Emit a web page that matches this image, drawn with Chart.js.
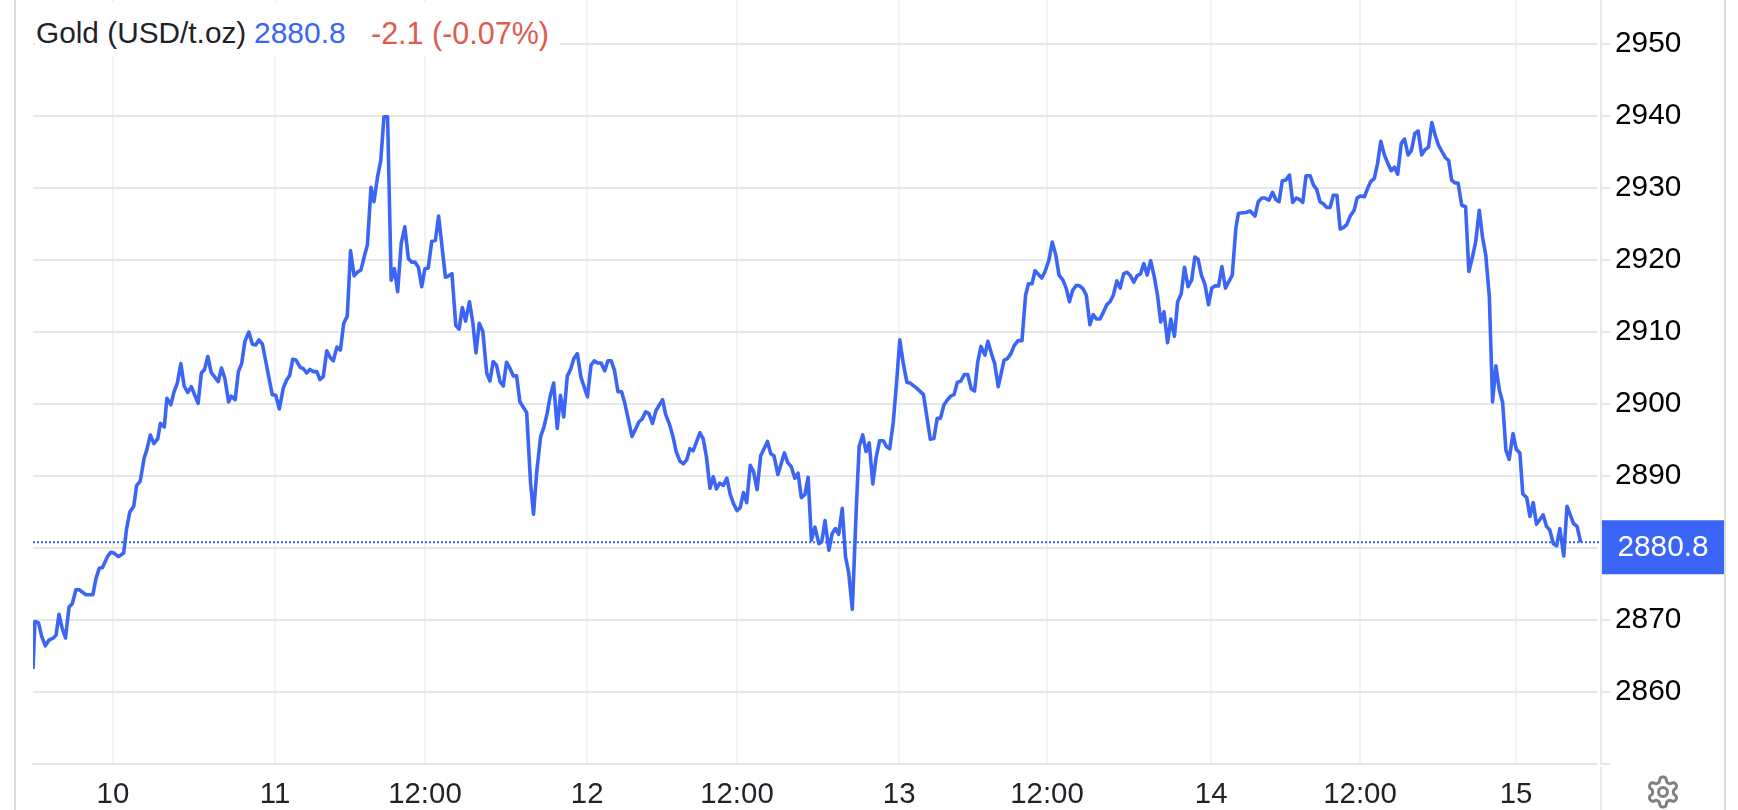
<!DOCTYPE html>
<html><head><meta charset="utf-8">
<style>
html,body{margin:0;padding:0;background:#fff;width:1738px;height:810px;overflow:hidden;font-family:"Liberation Sans",Arial,sans-serif}
#wrap{position:relative;width:1738px;height:810px}
canvas{position:absolute;left:0;top:0}
.edge{position:absolute;top:0;width:2px;height:810px;background:#dcdcdc}
#head{position:absolute;left:35px;top:2px;width:525px;height:55px;background:#fff}
#head span{position:absolute;top:13px;font-size:30px;line-height:36px;white-space:nowrap}
#gear{position:absolute;left:1645px;top:774px;width:36px;height:36px}
</style></head><body>
<div id="wrap">
<div class="edge" style="left:14px"></div>
<div class="edge" style="left:1724px"></div>
<canvas id="c" width="1738" height="810"></canvas>
<div id="head">
<span style="left:1px;color:#1f2328;font-size:29.8px">Gold (USD/t.oz)</span>
<span style="left:219px;color:#3b66f5">2880.8</span>
<span style="left:336px;color:#e05a50;font-size:30.5px">-2.1 (-0.07%)</span>
</div>
<svg id="gear" viewBox="0 0 24 24" fill="none" stroke="#808080" stroke-width="2" stroke-linecap="round" stroke-linejoin="round"><path d="M12.22 2h-.44a2 2 0 0 0-2 2v.18a2 2 0 0 1-1 1.73l-.43.25a2 2 0 0 1-2 0l-.15-.08a2 2 0 0 0-2.73.73l-.22.38a2 2 0 0 0 .73 2.73l.15.1a2 2 0 0 1 1 1.72v.51a2 2 0 0 1-1 1.74l-.15.09a2 2 0 0 0-.73 2.73l.22.38a2 2 0 0 0 2.73.73l.15-.08a2 2 0 0 1 2 0l.43.25a2 2 0 0 1 1 1.73V20a2 2 0 0 0 2 2h.44a2 2 0 0 0 2-2v-.18a2 2 0 0 1 1-1.73l.43-.25a2 2 0 0 1 2 0l.15.08a2 2 0 0 0 2.73-.73l.22-.39a2 2 0 0 0-.73-2.73l-.15-.08a2 2 0 0 1-1-1.74v-.5a2 2 0 0 1 1-1.74l.15-.09a2 2 0 0 0 .73-2.73l-.22-.38a2 2 0 0 0-2.73-.73l-.15.08a2 2 0 0 1-2 0l-.43-.25a2 2 0 0 1-1-1.73V4a2 2 0 0 0-2-2z"/><circle cx="12" cy="12" r="3"/></svg>
</div>
<script src="https://cdn.jsdelivr.net/npm/chart.js@4"></script>
<script>
const slots = [0,0.6,1.7,2.7,3.8,4.9,6.3,7.1,8,9,10,11.1,12.1,13.2,14.2,16.3,18.4,19.4,20.4,21.4,22.9,23.9,24.9,26.3,27.9,28.8,29.8,31,31.9,33,34.2,35,36.1,37.2,38.4,39.2,40.4,41.2,42.4,43.4,44.4,45.5,46.5,47.6,48.7,50.8,51.8,52.8,53.8,54.8,57,58,59,60.2,61,62.2,63.2,64.2,65.2,66.4,67.5,68.5,69.5,70.6,73.6,74.7,75.8,77,78,79,79.9,
80.9,82.2,83.2,84.2,85.2,86.3,87.3,88.3,89.3,90.4,91.4,92.4,93.5,94.6,95.6,96.7,97.7,98.8,99.8,100.9,102,102.9,104,104.9,106,107,108,109.1,110.2,111.2,112.2,113.3,114.4,115.5,116.5,117.5,118.6,119.6,120.6,121.6,122.7,123.8,124.8,126.9,127.9,128.9,130.1,131.1,132.1,133.1,134.3,135.3,136.3,137.3,138.4,
139.6,140.6,141.6,142.6,143.7,144.7,145.7,146.7,147.8,148.8,149.8,151.9,153.1,154,155,156.2,157.2,158.2,159.1,160.2,161.3,162.3,163.3,164.4,165.4,166.4,167.5,168.6,170.6,171.7,172.7,173.7,174.8,175.9,176.9,177.9,178.9,180,181.1,182.1,183.1,184.3,185.3,186.4,187.4,188.5,189.5,190.6,191.7,193.7,194.7,195.9,196.9,197.9,199,200.1,201.1,202.1,203.1,205.2,206.2,207.2,208.3,209.3,210.3,211.3,212.4,213.5,
214.5,215.5,216.6,217.6,218.6,219.6,220.7,221.7,222.8,223.9,226,227,228,229.2,231.2,232.2,233.3,234.4,235.4,236.4,237.5,238.5,239.5,240.6,241.8,242.7,243.7,244.9,245.9,246.9,247.9,249,250,251,252.1,253.3,254.2,255.3,256.3,257.3,258.4,259.4,260.5,261.6,262.6,263.6,264.7,265.7,266.7,267.8,268.9,269.9,271.9,274,276.1,277.2,278.2,279.2,280.3,281.4,282.4,283.4,284.4,285.5,286.6,287.6,288.7,289.7,290.7,291.7,292.9,293.8,294.9,
295.9,297,298.8,299.8,300.9,301.9,303.1,304.3,305.4,306.3,307.4,308.3,310.4,311.4,312.6,313.6,314.7,315.7,316.9,317.9,318.9,319.9,321.1,322.1,323.1,324.1,325.2,326.2,327.3,328.3,329.4,330.4,331.4,332.4,333.5,334.5,335.6,336.6,337.7,338.7,339.7,340.8,341.8,342.8,343.9,345,346,347,348,349.1,350.1,351.2,352.2,353.3,354.3,355.4,356.5,357.5,358.5,359.5,360.6,361.7,362.7,363.7,364.8,365.8,366.9,369,370.1,370.9,373.2,
374.5,376,377,378.1,379.1,380.3,381.4,382.4,383.4,384.4,385.5,386.6,387.6,388.7,389.7,390.7,391.7,393,394,395,396,397,398.1,399.1,400.1,401.2,402.2,403.2,404.2,405.3,406.5,407.4,408.4,409.7,410.7,411.6,412.7,413.7,414.7,415.8,416.9,417.9,418.9,419.9,421,422,423.1,424.1,425.2,426.2,427.3,428.3,429.4,430.4,431.4,432.4,433.6,434.6,435.6,436.5,
437.5,438.5,439.6,440.8,441.8,442.8,443.9,445,446,447,448.1,449.1,450.1,451.2,452.2,453.2,454.2,455.4,456.4,457.5,458.4,459.6,460.6,461.6,462.6,464.7,465.7,466.7,467.8,468.8,469.8,471,472,473,474,475.1,476.2];
const prices = [2863.2,2869.8,2869.6,2867.7,2866.4,2867.2,2867.5,2867.9,2870.8,2868.8,2867.5,2871.8,2872.3,2874.2,2874.2,2873.5,2873.5,2875.8,2877.2,2877.3,2878.8,2879.4,2879.3,2878.8,2879.3,2882.7,2885,2885.8,2888.7,2889.3,2892.5,2893.6,2895.7,2894.5,2895.2,2897.3,2896.8,2900.8,2899.9,2901.7,2902.9,2905.6,2902.5,2901.6,2902.4,2900.1,2904.3,2904.8,2906.6,2904.4,2903.1,2905,2903.6,2900.3,2901.1,2900.6,2904.5,2905.6,2908.7,2910,2908.3,2908.2,2908.9,2908.3,2901.3,2901.2,2899.3,2902.2,2903.3,2904,2906.2,
2906.1,2905.1,2904.9,2904.3,2904.8,2904.5,2904.5,2903.4,2903.8,2907.4,2906.5,2906,2907.9,2907.5,2911.2,2912.2,2921.3,2917.8,2918.3,2918.6,2920.6,2922.1,2930.1,2928.1,2931.5,2933.8,2939.9,2939.9,2917.2,2918.8,2915.6,2922.3,2924.6,2920.2,2919.7,2919.7,2919,2916.3,2918.8,2918.9,2922.6,2922.7,2926.1,2917.6,2917.8,2918.1,2910.9,2910.4,2913.4,2911.5,2914.2,2911.4,2907.1,2911.2,2910.1,
2904.3,2903.2,2905.9,2905.4,2903.1,2902.5,2905.8,2905,2903.9,2903.9,2900.3,2898.8,2889,2884.7,2890.6,2895.5,2896.8,2898.7,2901,2902.9,2896.6,2901.2,2898.2,2903.9,2904.8,2906.3,2907,2903.7,2901,2905.4,2906,2905.7,2905.7,2904.6,2906,2906,2904.7,2901.7,2901.7,2900.1,2898,2895.5,2896.4,2897.5,2897.9,2898.9,2898.7,2897.3,2899.1,2900.6,2898.5,2897.1,2895.5,2893.4,2892.1,2891.7,2892.2,2893.8,2893.5,2896,2895.2,2892.7,2888.3,2889.9,2888.2,2889,2888.7,2889.7,
2887.5,2886.2,2885.2,2885.6,2887.7,2886.3,2891.5,2890.6,2888.1,2892.8,2894.8,2893.1,2892.8,2890.2,2893.2,2891.9,2891.3,2889.7,2890.4,2887,2887.4,2889.8,2881.1,2882.9,2880.6,2880.9,2883.8,2879.7,2882,2882.7,2881.9,2885.5,2878.8,2876.5,2871.5,2885.3,2894.1,2895.7,2893.4,2894.6,2888.9,2892.5,2894.9,2894.9,2894.1,2893.8,2897.5,2902.9,2908.9,2905.6,2903,2902.9,2902.2,2901.3,2895.1,2895.2,2898,2898,2899.9,2900.6,2901.1,2901.3,2903,2903.2,2904.1,2904.1,2902.1,2901.8,2905.9,2908,2906.8,2908.7,2907,
2905.6,2902.4,2906.1,2906.3,2907,2908.1,2908.8,2908.8,2915.1,2916.7,2916.7,2918.5,2917.5,2918.4,2920,2922.5,2920.7,2917.9,2917.2,2916.1,2914.2,2915.8,2916.5,2916.4,2916,2915.1,2911,2912.4,2911.8,2911.8,2912.8,2913.8,2914.2,2915.1,2917.1,2916.1,2918.1,2918.3,2917.8,2916.9,2917.8,2918.1,2919.5,2917.9,2919.9,2917.7,2915.1,2911.4,2912.8,2908.5,2911.8,2909.4,2914.2,2915.3,2919,2916.3,2917.2,2920.4,2920.1,2917.9,2916.6,2913.8,2916.1,2916.4,2916.4,2919.1,2916.1,2917.9,2924.4,2926.5,2926.6,
2926.8,2926.1,2928.1,2928.6,2928.6,2928.3,2929.4,2928.4,2928.1,2931,2931.1,2931.8,2928,2928.6,2928.4,2928,2931.7,2931.7,2930.4,2929.8,2928.1,2927.8,2927.3,2927.3,2929,2929,2924.3,2924.5,2924.9,2926.1,2926.9,2928.6,2928.9,2928.8,2930,2930.9,2931.3,2933.4,2936.5,2934.6,2933.4,2932.4,2932.9,2931.9,2936.2,2936.8,2934.6,2935.2,2937.6,2937.9,2934.6,2935.3,2935.7,2939.1,2937.4,2936,2935,2934.2,2933.8,2931.1,
2930.7,2930.7,2927.6,2927.4,2918.4,2920.2,2922.5,2926.9,2923.2,2920.7,2914.9,2900.3,2905.3,2901.9,2900.2,2893.6,2892.3,2895.9,2893.7,2893.2,2887.5,2887,2884.4,2886.3,2883.3,2884.6,2883,2882.5,2880.6,2880.3,2882.7,2878.9,2885.8,2884.6,2883.4,2883,2880.8];
const lastPrice = 2880.8;
const xTickSlots = [24.6,74.5,120.6,170.5,216.6,266.5,312,362.5,408.3,456.3];
const xTickLabels = ["10","11","12:00","12","12:00","13","12:00","14","12:00","15"];
const priceTicks = [2850,2860,2870,2880,2890,2900,2910,2920,2930,2940,2950];
const xMaxSlot = 482.46, yMin = 2850, yMax = 2956.11;
const BLUE = "#3b66f5", GRID = "#e6e7e8", VGRID = "#f0f3f7";
const FONT = {family:'"Liberation Sans",Arial,sans-serif', size:29.8};

const extras = {
  id:'extras',
  beforeDatasetsDraw(ch){
    const {ctx,chartArea:a} = ch;
    ctx.save();
    ctx.fillStyle = '#fff';
    ctx.fillRect(a.right-3.2, 0, 2.2, a.bottom+1);
    ctx.restore();
  },
  afterDraw(ch){
    const {ctx,chartArea:a,scales:{y}} = ch;
    const py = y.getPixelForValue(lastPrice);
    ctx.save();
    ctx.fillStyle = GRID;
    ctx.fillRect(a.right-1, a.bottom+3, 2, 810-a.bottom-3);
    ctx.fillStyle = BLUE;
    ctx.fillRect(a.right+1, py-22, 122, 54);
    ctx.fillStyle = '#fff';
    ctx.font = FONT.size+'px '+FONT.family;
    ctx.textAlign = 'center';
    ctx.textBaseline = 'middle';
    ctx.fillText(lastPrice.toFixed(1), a.right+62, py+6);
    ctx.restore();
  }
};

new Chart(document.getElementById('c'),{
  type:'line',
  data:{datasets:[
    {data:slots.map((s,i)=>({x:s,y:prices[i]})),borderColor:BLUE,borderWidth:3.6,pointRadius:0,tension:0,borderJoinStyle:'round',borderCapStyle:'butt'},
    {data:[{x:0,y:lastPrice},{x:xMaxSlot,y:lastPrice}],borderColor:BLUE,borderWidth:2,borderDash:[2,2],pointRadius:0,tension:0}
  ]},
  plugins:[extras],
  options:{
    responsive:false,animation:false,devicePixelRatio:1,
    layout:{padding:{left:33,right:0,top:0,bottom:0},autoPadding:false},
    plugins:{legend:{display:false},tooltip:{enabled:false}},
    scales:{
      x:{type:'linear',min:0,max:xMaxSlot,
        afterBuildTicks(s){s.ticks=xTickSlots.map(v=>({value:v}));},
        afterFit(s){s.height=46;s.paddingLeft=0;s.paddingRight=0;},
        grid:{color:VGRID,lineWidth:2,drawTicks:false,tickLength:0},
        border:{color:GRID,width:2},
        ticks:{autoSkip:false,maxRotation:0,minRotation:0,padding:13,color:'#1f2328',font:{family:FONT.family,size:29.4},
          callback(v){const i=xTickSlots.indexOf(v);return i<0?'':xTickLabels[i];}}
      },
      y:{type:'linear',position:'right',min:yMin,max:yMax,
        afterBuildTicks(s){s.ticks=priceTicks.map(v=>({value:v}));},
        afterFit(s){s.width=137;s.paddingTop=0;s.paddingBottom=0;},
        grid:{color:GRID,lineWidth:2,tickLength:9,tickColor:GRID},
        border:{color:GRID,width:2},
        ticks:{padding:5,color:'#000',font:FONT,
          callback(v){return v===yMin?'':String(v);}}
      }
    }
  }
});
</script>
</body></html>
